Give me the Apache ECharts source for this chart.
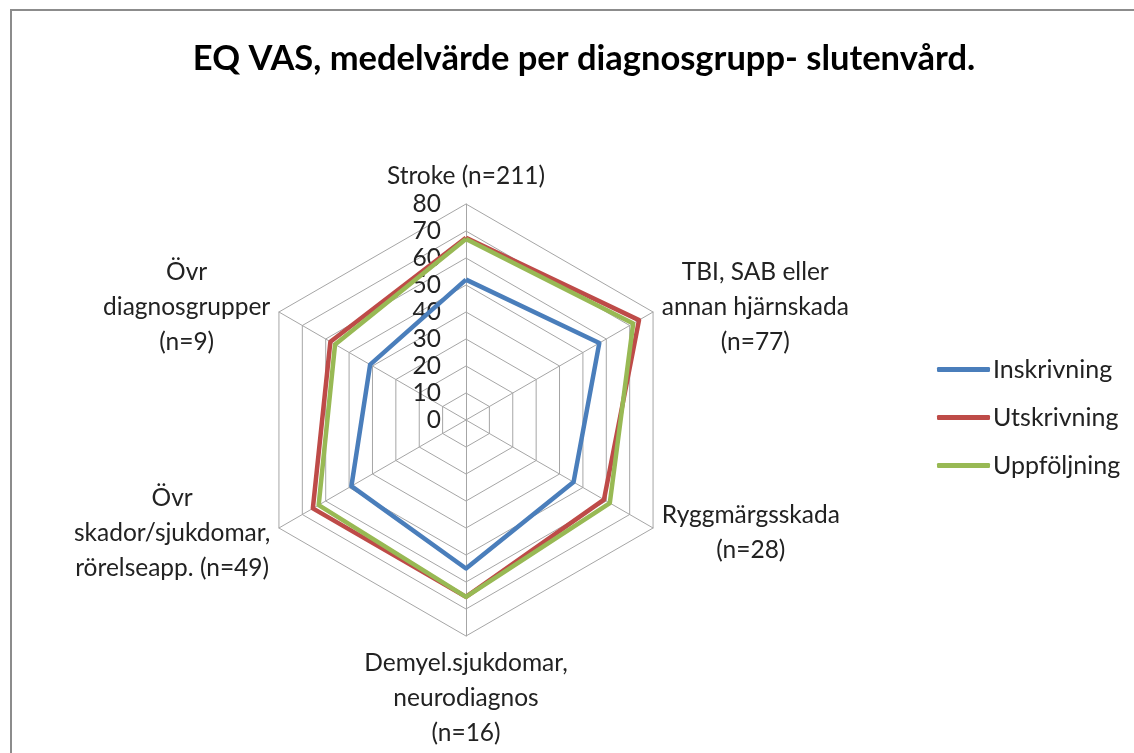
<!DOCTYPE html>
<html>
<head>
<meta charset="utf-8">
<script src="https://cdn.jsdelivr.net/npm/echarts@6/dist/echarts.min.js"></script>
<style>
  html, body { margin: 0; padding: 0; background: #fff; }
  #chart { width: 1134px; height: 753px; }
</style>
</head>
<body>
<div id="chart"></div>
<script>
// EQ VAS radar, one spoke per diagnosis group.
// ECharts lays indicators out counter-clockwise from the top, so the
// order here is: top, upper-left, lower-left, bottom, lower-right, upper-right.
const groups = [
  'Stroke (n=211)',
  'Övr\ndiagnosgrupper\n(n=9)',
  'Övr\nskador/sjukdomar,\nrörelseapp. (n=49)',
  'Demyel.sjukdomar,\nneurodiagnos\n(n=16)',
  'Ryggmärgsskada\n(n=28)',
  'TBI, SAB eller\nannan hjärnskada\n(n=77)'
];
const inskrivning = [52, 41, 49, 55, 46, 57];
const utskrivning = [67.5, 58, 65.5, 65.5, 59, 74];
const uppfoljning = [67, 56, 63, 65.5, 61.5, 71.5];
const seriesNames = ['Inskrivning', 'Utskrivning', 'Uppföljning'];
const AXIS_MAX = 80;

const COLORS = ['#4a7ebb', '#be4b48', '#98b954'];
const FONT = 'Lato, "Open Sans", sans-serif';

const chart = echarts.init(document.getElementById('chart'), null, { renderer: 'canvas' });

const indicator = groups.map((g, i) => ({
  name: g,
  min: 0,
  max: AXIS_MAX,
  // only the top spoke carries the 0..80 scale
  axisLabel: i === 0 ? { show: true } : { show: false }
}));

chart.setOption({
  backgroundColor: '#fff',
  animation: false,
  color: COLORS,
  title: {
    text: 'EQ VAS, medelvärde per diagnosgrupp- slutenvård.',
    left: 579,
    textAlign: 'center',
    top: 36,
    textStyle: { fontFamily: FONT, fontSize: 34.5, fontWeight: 'bold', color: '#000' }
  },
  legend: {
    orient: 'vertical',
    left: 932,
    top: 352,
    itemWidth: 53,
    itemHeight: 5,
    itemGap: 23,
    icon: 'roundRect',
    data: seriesNames,
    textStyle: { fontFamily: FONT, fontSize: 25, color: '#222', padding: [0, 0, 0, -2] }
  },
  radar: {
    center: [466, 420],
    radius: 216,
    startAngle: 90,
    splitNumber: 8,
    shape: 'polygon',
    nameGap: 10,
    indicator: indicator,
    axisName: {
      color: '#222',
      fontFamily: FONT,
      fontSize: 24.5,
      formatter: (name) => name.split('\n').map((s) => '{c|' + s + '}').join('\n'),
      rich: {
        c: { align: 'center', fontFamily: FONT, fontSize: 24.5, lineHeight: 35, color: '#222' }
      }
    },
    axisLine: { lineStyle: { color: '#a6a6a6', width: 1 } },
    splitLine: { lineStyle: { color: '#a6a6a6', width: 1 } },
    splitArea: { show: false },
    axisTick: { show: false },
    axisLabel: {
      show: false,
      margin: 25,
      fontFamily: FONT,
      fontSize: 24.5,
      color: '#222'
    }
  },
  series: [{
    type: 'radar',
    symbol: 'none',
    lineStyle: { width: 4.5 },
    data: [
      { name: seriesNames[0], value: inskrivning, lineStyle: { color: COLORS[0], width: 4.5 } },
      { name: seriesNames[1], value: utskrivning, lineStyle: { color: COLORS[1], width: 4.5 } },
      { name: seriesNames[2], value: uppfoljning, lineStyle: { color: COLORS[2], width: 4.5 } }
    ]
  }],
  graphic: [{
    type: 'rect',
    shape: { x: 11, y: 10, width: 1140, height: 760 },
    style: { fill: null, stroke: '#8c8c8c', lineWidth: 2 },
    silent: true,
    z: -1
  }]
});
</script>
</body>
</html>
